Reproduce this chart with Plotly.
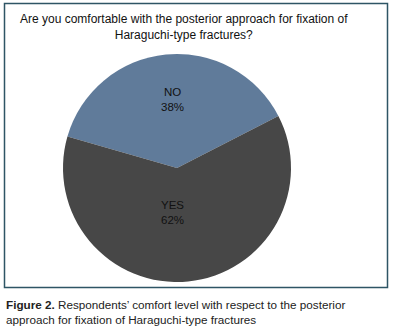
import plotly.graph_objects as go

# Data
categories = ["NO", "YES"]
values = [38, 62]
slice_colors = ["#607B9A", "#474747"]

title_text = "Are you comfortable with the posterior approach for fixation of<br>Haraguchi-type fractures?"
caption_text = ("<b>Figure 2.</b> Respondents’ comfort level with respect to the posterior<br>"
                "approach for fixation of Haraguchi-type fractures")

W, H = 396, 335
FONT = "Liberation Sans, Arial, sans-serif"

cx, cy, r = 177, 168, 114
# label centres (pixels) for the in-slice data labels
label_pos = [(172, 100), (172, 212)]

fig = go.Figure(go.Pie(
    labels=categories,
    values=values,
    sort=False,
    direction="clockwise",
    rotation=-74,
    marker=dict(colors=slice_colors, line=dict(width=0)),
    textinfo="none",
    domain=dict(x=[(cx - r) / W, (cx + r) / W], y=[1 - (cy + r) / H, 1 - (cy - r) / H]),
    showlegend=False,
    hoverinfo="label+percent",
))

total = sum(values)
annotations = []
for lab, v, (px, py) in zip(categories, values, label_pos):
    annotations.append(dict(
        text=f"{lab}<br>{round(100 * v / total)}%", xref="paper", yref="paper",
        x=px / W, y=1 - py / H, xanchor="center", yanchor="middle",
        showarrow=False, align="center",
        font=dict(family=FONT, size=11.5, color="#111111")))

annotations += [
    dict(text=title_text, xref="paper", yref="paper", x=184 / W, y=1 - 10 / H,
         xanchor="center", yanchor="top", showarrow=False, align="center",
         font=dict(family=FONT, size=12, color="#111111")),
    dict(text=caption_text, xref="paper", yref="paper", x=4 / W, y=1 - 296 / H,
         xanchor="left", yanchor="top", showarrow=False, align="left",
         font=dict(family=FONT, size=11.7, color="#222222")),
]

fig.update_layout(
    width=W, height=H,
    margin=dict(l=0, r=0, t=0, b=0),
    paper_bgcolor="white",
    plot_bgcolor="white",
    font=dict(family=FONT),
    shapes=[dict(type="rect", xref="paper", yref="paper",
                 x0=4.5 / W, x1=387.5 / W, y0=1 - 287.5 / H, y1=1 - 3.5 / H,
                 line=dict(color="#2E5565", width=1.5), fillcolor="rgba(0,0,0,0)")],
    annotations=annotations,
)

fig.write_html("out.html", config={"displayModeBar": False},
               post_script="document.body.style.margin='0';document.body.style.padding='0';")
